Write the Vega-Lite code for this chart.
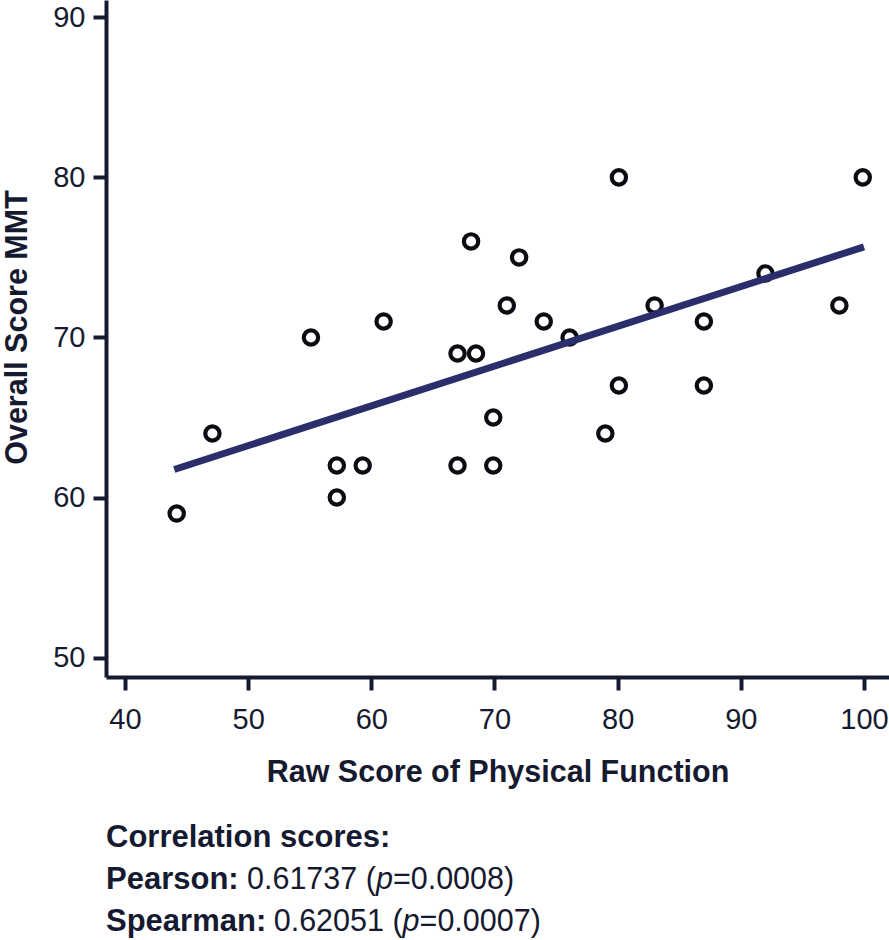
{
  "$schema": "https://vega.github.io/schema/vega-lite/v6.json",
  "padding": {"left": 2, "top": 0, "right": 0, "bottom": 0},
  "background": "white",
  "bounds": "flush",
  "spacing": 170,
  "config": {
    "view": {"stroke": null},
    "font": "Liberation Sans",
    "axis": {
      "grid": false,
      "domainColor": "#161a30",
      "domainWidth": 4,
      "tickColor": "#161a30",
      "tickWidth": 4,
      "tickSize": 13,
      "labelFont": "Liberation Sans",
      "labelFontSize": 29,
      "labelColor": "#161a30",
      "titleFont": "Liberation Sans",
      "titleFontSize": 30.5,
      "titleFontWeight": "bold",
      "titleColor": "#161a30"
    }
  },
  "datasets": {
    "points": [
      {"x": 44.2, "y": 59},
      {"x": 47.1, "y": 64},
      {"x": 55.1, "y": 70},
      {"x": 57.2, "y": 62},
      {"x": 57.2, "y": 60},
      {"x": 59.3, "y": 62},
      {"x": 61.0, "y": 71},
      {"x": 67.0, "y": 69},
      {"x": 67.0, "y": 62},
      {"x": 68.1, "y": 76},
      {"x": 68.5, "y": 69},
      {"x": 69.9, "y": 65},
      {"x": 69.9, "y": 62},
      {"x": 71.0, "y": 72},
      {"x": 72.0, "y": 75},
      {"x": 74.0, "y": 71},
      {"x": 76.1, "y": 70},
      {"x": 79.0, "y": 64},
      {"x": 80.1, "y": 80},
      {"x": 80.1, "y": 67},
      {"x": 83.0, "y": 72},
      {"x": 87.0, "y": 71},
      {"x": 87.0, "y": 67},
      {"x": 92.0, "y": 74},
      {"x": 98.0, "y": 72},
      {"x": 99.9, "y": 80}
    ],
    "fit": [
      {"x": 44.0, "y": 61.75},
      {"x": 100.0, "y": 75.66}
    ],
    "notes": [
      {"row": 1, "part": "label", "text": "Correlation scores:"},
      {"row": 2, "part": "label", "text": "Pearson:"},
      {"row": 3, "part": "label", "text": "Spearman:"},
      {"row": 2, "part": "pre", "text": "0.61737 ("},
      {"row": 2, "part": "p", "text": "p"},
      {"row": 2, "part": "post", "text": "=0.0008)"},
      {"row": 3, "part": "pre", "text": "0.62051 ("},
      {"row": 3, "part": "p", "text": "p"},
      {"row": 3, "part": "post", "text": "=0.0007)"}
    ]
  },
  "vconcat": [
    {
      "width": 783,
      "height": 677,
      "encoding": {
        "x": {
          "field": "x",
          "type": "quantitative",
          "scale": {"domain": [38.46, 102.03], "nice": false, "zero": false},
          "axis": {"values": [40, 50, 60, 70, 80, 90, 100], "labelPadding": 15, "titlePadding": 23},
          "title": "Raw Score of Physical Function"
        },
        "y": {
          "field": "y",
          "type": "quantitative",
          "scale": {"domain": [48.79, 91.08], "nice": false, "zero": false},
          "axis": {"values": [50, 60, 70, 80, 90], "labelPadding": 8, "titlePadding": 20, "titleY": 327},
          "title": "Overall Score MMT"
        }
      },
      "layer": [
        {
          "data": {"name": "points"},
          "mark": {"type": "point", "shape": "circle", "filled": false, "size": 205, "strokeWidth": 4.2, "color": "#0b0b12", "opacity": 1}
        },
        {
          "data": {"name": "fit"},
          "mark": {"type": "line", "color": "#2a2e6b", "strokeWidth": 7, "strokeCap": "butt"}
        }
      ]
    },
    {
      "width": 783,
      "height": 84,
      "data": {"name": "notes"},
      "encoding": {
        "x": {"datum": 0, "type": "quantitative", "scale": {"domain": [0, 1]}, "axis": null},
        "y": {"field": "row", "type": "ordinal", "axis": null, "scale": {"type": "point", "padding": 0, "domain": [1, 2, 3]}},
        "text": {"field": "text"}
      },
      "layer": [
        {
          "transform": [{"filter": "datum.part == 'label'"}],
          "mark": {"type": "text", "align": "left", "baseline": "alphabetic", "fontSize": 31, "fontWeight": "bold", "color": "#161a30"}
        },
        {
          "transform": [{"filter": "datum.part == 'pre' && datum.row == 2"}],
          "mark": {"type": "text", "align": "left", "baseline": "alphabetic", "fontSize": 30.5, "color": "#161a30", "dx": 141}
        },
        {
          "transform": [{"filter": "datum.part == 'p' && datum.row == 2"}],
          "mark": {"type": "text", "align": "left", "baseline": "alphabetic", "fontSize": 30.5, "fontStyle": "italic", "color": "#161a30", "dx": 269.9}
        },
        {
          "transform": [{"filter": "datum.part == 'post' && datum.row == 2"}],
          "mark": {"type": "text", "align": "left", "baseline": "alphabetic", "fontSize": 30.5, "color": "#161a30", "dx": 286.9}
        },
        {
          "transform": [{"filter": "datum.part == 'pre' && datum.row == 3"}],
          "mark": {"type": "text", "align": "left", "baseline": "alphabetic", "fontSize": 30.5, "color": "#161a30", "dx": 167.7}
        },
        {
          "transform": [{"filter": "datum.part == 'p' && datum.row == 3"}],
          "mark": {"type": "text", "align": "left", "baseline": "alphabetic", "fontSize": 30.5, "fontStyle": "italic", "color": "#161a30", "dx": 296.6}
        },
        {
          "transform": [{"filter": "datum.part == 'post' && datum.row == 3"}],
          "mark": {"type": "text", "align": "left", "baseline": "alphabetic", "fontSize": 30.5, "color": "#161a30", "dx": 313.6}
        }
      ]
    }
  ]
}
